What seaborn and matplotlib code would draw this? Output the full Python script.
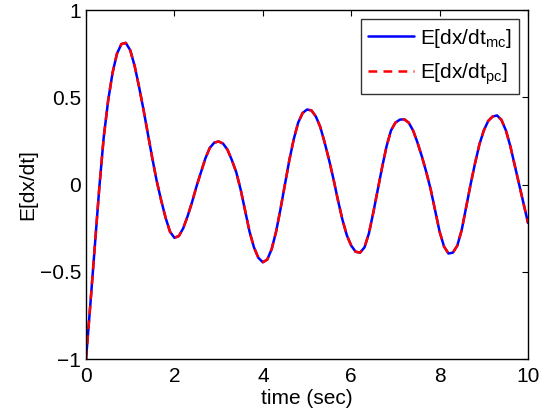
import numpy as np
import pandas as pd
import matplotlib
matplotlib.use('Agg')
import matplotlib.pyplot as plt
import seaborn as sns

# time axis (sec)
time = np.round(np.arange(0, 10.01, 0.1), 2)

# E[dx/dt], Monte Carlo estimate
dxdt_mc = [
    -1.00, -0.68, -0.35, -0.02, 0.27, 0.48, 0.64, 0.75, 0.805, 0.812,
    0.77, 0.68, 0.56, 0.43, 0.29, 0.15, 0.02, -0.09, -0.19, -0.27,
    -0.305, -0.295, -0.25, -0.18, -0.10, -0.01, 0.07, 0.15, 0.21, 0.24,
    0.247, 0.235, 0.20, 0.14, 0.07, -0.03, -0.15, -0.27, -0.36, -0.42,
    -0.445, -0.43, -0.37, -0.27, -0.14, 0.00, 0.14, 0.26, 0.355, 0.41,
    0.43, 0.425, 0.39, 0.33, 0.24, 0.14, 0.03, -0.09, -0.20, -0.29,
    -0.35, -0.385, -0.39, -0.36, -0.28, -0.16, -0.03, 0.10, 0.22, 0.31,
    0.355, 0.372, 0.374, 0.355, 0.31, 0.24, 0.16, 0.07, -0.03, -0.15,
    -0.27, -0.355, -0.395, -0.39, -0.35, -0.26, -0.13, 0.00, 0.12, 0.23,
    0.31, 0.365, 0.39, 0.396, 0.37, 0.31, 0.22, 0.11, 0.00, -0.11,
    -0.22,
]
# polynomial chaos estimate coincides with MC at plot resolution
dxdt_pc = list(dxdt_mc)

x_ticks = [0, 2, 4, 6, 8, 10]
y_ticks = [-1, -0.5, 0, 0.5, 1]
y_tick_labels = ['\u22121', '\u22120.5', '0', '0.5', '1']

sns.set_style('white')
plt.rcParams['font.family'] = ['Liberation Sans', 'DejaVu Sans']
plt.rcParams['mathtext.default'] = 'regular'
plt.rcParams['xtick.direction'] = 'in'
plt.rcParams['ytick.direction'] = 'in'
plt.rcParams['text.color'] = 'black'
plt.rcParams['axes.labelcolor'] = 'black'
plt.rcParams['xtick.color'] = 'black'
plt.rcParams['ytick.color'] = 'black'

df = pd.DataFrame({'t': time, 'mc': dxdt_mc, 'pc': dxdt_pc})

fig = plt.figure(figsize=(5.41, 4.19), dpi=100)
ax = fig.add_axes([0.159, 0.143, 0.817, 0.833])

sns.lineplot(data=df, x='t', y='mc', ax=ax, color='#0000ff', lw=1.8,
             label=r'E[dx/dt$_{mc}$]')
sns.lineplot(data=df, x='t', y='pc', ax=ax, color='#ff0000', lw=1.8,
             dashes=False, label=r'E[dx/dt$_{pc}$]')
ax.lines[1].set_linestyle((0, (3.5, 2.5)))

ax.set_xlim(0, 10)
ax.set_ylim(-1, 1)
ax.set_xticks(x_ticks)
ax.set_yticks(y_ticks)
ax.set_yticklabels(y_tick_labels)
ax.tick_params(axis='both', labelsize=15, length=4, width=0.8, color='black',
               labelcolor='black', top=True, right=True)
ax.tick_params(axis='x', pad=6)
ax.set_xlabel('time (sec)', fontsize=15, labelpad=2)
ax.set_ylabel('E[dx/dt]', fontsize=15, labelpad=2)

for s in ax.spines.values():
    s.set_color('black')
    s.set_linewidth(1.0)

leg = ax.legend(loc='upper right', fontsize=15, frameon=True, fancybox=False,
                handlelength=2.2, handletextpad=0.3, borderpad=0.35,
                labelspacing=0.55, borderaxespad=0.45)
leg.get_frame().set_edgecolor('black')
leg.get_frame().set_linewidth(1.0)
for txt in leg.get_texts():
    txt.set_color('black')

fig.savefig('out.png', dpi=100)
